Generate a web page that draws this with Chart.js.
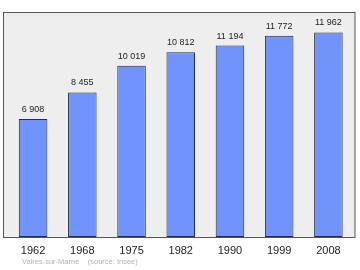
<!DOCTYPE html>
<html>
<head>
<meta charset="utf-8">
<script src="https://cdn.jsdelivr.net/npm/chart.js@4"></script>
<style>
  html, body { margin: 0; padding: 0; background: #ffffff; }
  #wrap { width: 360px; height: 270px; }
</style>
</head>
<body>
<div id="wrap"><canvas id="popChart"></canvas></div>
<script>
// Population de Vaires-sur-Marne
const years = ['1962', '1968', '1975', '1982', '1990', '1999', '2008'];
const population = [6908, 8455, 10019, 10812, 11194, 11772, 11962];
const sourceText = 'Vaires-sur-Marne    (source: Insee)';

// nombre avec espace comme séparateur des milliers
function fmt(n) {
    return n.toString().replace(/\B(?=(\d{3})+(?!\d))/g, ' ');
}

const framePlugin = {
    id: 'frame',
    beforeDraw(chart) {
        const ctx = chart.ctx;
        const a = chart.chartArea;
        ctx.save();
        ctx.fillStyle = '#eeeeee';
        ctx.fillRect(4, a.top, 351, a.bottom - a.top);
        ctx.strokeStyle = '#555555';
        ctx.lineWidth = 1;
        ctx.strokeRect(3.5, a.top + 0.5, 351.5, a.bottom - a.top);
        ctx.restore();
    },
    afterDatasetsDraw(chart) {
        const ctx = chart.ctx;
        const meta = chart.getDatasetMeta(0);
        ctx.save();
        ctx.font = '9px "Liberation Sans", Arial, sans-serif';
        ctx.fillStyle = '#222222';
        ctx.textAlign = 'center';
        ctx.textBaseline = 'alphabetic';
        meta.data.forEach((bar, i) => {
            ctx.fillText(fmt(population[i]), bar.x, bar.y - 7);
        });
        ctx.font = '7.5px "Liberation Sans", Arial, sans-serif';
        ctx.fillStyle = '#b4b4b4';
        ctx.textAlign = 'left';
        ctx.textBaseline = 'middle';
        ctx.fillText(sourceText, 22, 262);
        ctx.restore();
    }
};

new Chart(document.getElementById('popChart'), {
    type: 'bar',
    data: {
        labels: years,
        datasets: [{
            data: population,
            backgroundColor: '#7094fc',
            borderColor: '#222a55',
            borderWidth: 1,
            borderSkipped: false,
            categoryPercentage: 1,
            barPercentage: 0.58
        }]
    },
    options: {
        responsive: true,
        maintainAspectRatio: false,
        animation: false,
        layout: { padding: { left: 8.5, right: 7, top: 12, bottom: 8 } },
        plugins: {
            legend: { display: false },
            tooltip: { enabled: false }
        },
        scales: {
            x: {
                grid: { display: false, drawTicks: false },
                border: { display: false },
                ticks: {
                    color: '#222222',
                    padding: 7,
                    font: { family: '"Liberation Sans", Arial, sans-serif', size: 11 }
                },
                afterFit(scale) { scale.height = 25; }
            },
            y: {
                display: false,
                min: 0,
                max: 13160
            }
        }
    },
    plugins: [framePlugin]
});
</script>
</body>
</html>
